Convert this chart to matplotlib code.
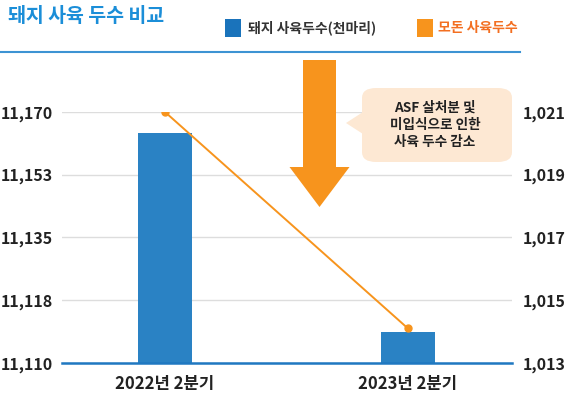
import numpy as np
import matplotlib
matplotlib.use('Agg')
import matplotlib.pyplot as plt
from matplotlib.patches import FancyArrow, FancyBboxPatch, Polygon, Rectangle

plt.rcParams['font.family'] = ['Noto Sans CJK KR', 'DejaVu Sans']

# data
categories = ['2022년 2분기', '2023년 2분기']
pigs = [11165, 11117.5]          # 돼지 사육두수(천마리)
sows = [1021.0, 1014.1]          # 모돈 사육두수
left_ticklabels = ['11,110', '11,118', '11,135', '11,153', '11,170']
right_ticks = [1013, 1015, 1017, 1019, 1021]
note = 'ASF 살처분 및\n미입식으로 인한\n사육 두수 감소'

blue = '#2a82c4'
orange = '#f7941d'
W, H = 565, 397

def fx(px):
    return px / W

def fy(py):
    return 1 - py / H

fig = plt.figure(figsize=(5.65, 3.97), dpi=100)
ax = fig.add_axes([fx(62), fy(363), fx(512) - fx(62), fy(112) - fy(363)])

x = np.arange(len(categories))
ax.bar(x, pigs, width=0.226, color=blue, zorder=3)
ax.set_xlim(-0.424, 1.428)
ax.set_ylim(11110, 11170)
ax.set_yticks(np.linspace(11110, 11170, len(left_ticklabels)))
ax.set_yticklabels(left_ticklabels, ha='left', fontsize=11.5, fontweight='bold', color='#222222')
ax.tick_params(axis='y', length=0, pad=44)
ax.set_xticks(x)
ax.set_xticklabels(categories, fontsize=12, fontweight='bold', color='#222222')
ax.tick_params(axis='x', length=0, pad=9)
ax.grid(axis='y', color='#dddddd', lw=1, zorder=0)
for s in ['top', 'right', 'left']:
    ax.spines[s].set_visible(False)
ax.spines['bottom'].set_color('#1f78c1')
ax.spines['bottom'].set_linewidth(1.8)
ax.spines['bottom'].set_zorder(4)

ax2 = ax.twinx()
ax2.plot(x, sows, color=orange, lw=1.4, marker='o', ms=5, zorder=5)
ax2.set_ylim(1013, 1021)
ax2.set_yticks(right_ticks)
ax2.set_yticklabels([f'{v:,}' for v in right_ticks], fontsize=11.5, fontweight='bold', color='#222222')
ax2.tick_params(axis='y', length=0, pad=8)
for s in ['top', 'right', 'left', 'bottom']:
    ax2.spines[s].set_visible(False)

# header
fig.text(fx(8), fy(17), '돼지 사육 두수 비교', fontsize=14, fontweight='bold', color='#1b8ed8', va='center')
fig.patches.append(Rectangle((fx(225), fy(37)), fx(16), 18 / H, transform=fig.transFigure,
                             facecolor='#1a73bb', edgecolor='none'))
fig.text(fx(248), fy(28), '돼지 사육두수(천마리)', fontsize=10, fontweight='bold', color='#333333', va='center')
fig.patches.append(Rectangle((fx(417), fy(37)), fx(16), 18 / H, transform=fig.transFigure,
                             facecolor=orange, edgecolor='none'))
fig.text(fx(438), fy(28), '모돈 사육두수', fontsize=10, fontweight='bold', color='#f36f21', va='center')
fig.add_artist(plt.Line2D([0, fx(520)], [fy(52), fy(52)], transform=fig.transFigure,
                          color='#3d93d3', lw=1.5))

# down arrow
fig.patches.append(FancyArrow(fx(319.5), fy(60), 0, fy(207) - fy(60), width=fx(33),
                              head_width=fx(60), head_length=40 / H, length_includes_head=True,
                              transform=fig.transFigure, facecolor=orange, edgecolor='none', zorder=6))

# callout
fig.patches.append(FancyBboxPatch((fx(362), fy(162)), fx(150), 74 / H,
                                  boxstyle='round,pad=0,rounding_size=0.025',
                                  transform=fig.transFigure, facecolor='#fde8d3', edgecolor='none', zorder=6))
fig.patches.append(Polygon([(fx(363), fy(112)), (fx(346), fy(123)), (fx(363), fy(134))],
                           transform=fig.transFigure, facecolor='#fde8d3', edgecolor='none', zorder=6))
fig.text(fx(435), fy(125), note, fontsize=9.8, fontweight='bold', color='#222222',
         ha='center', va='center', linespacing=1.3, zorder=7)

fig.savefig('out.png', dpi=100)
